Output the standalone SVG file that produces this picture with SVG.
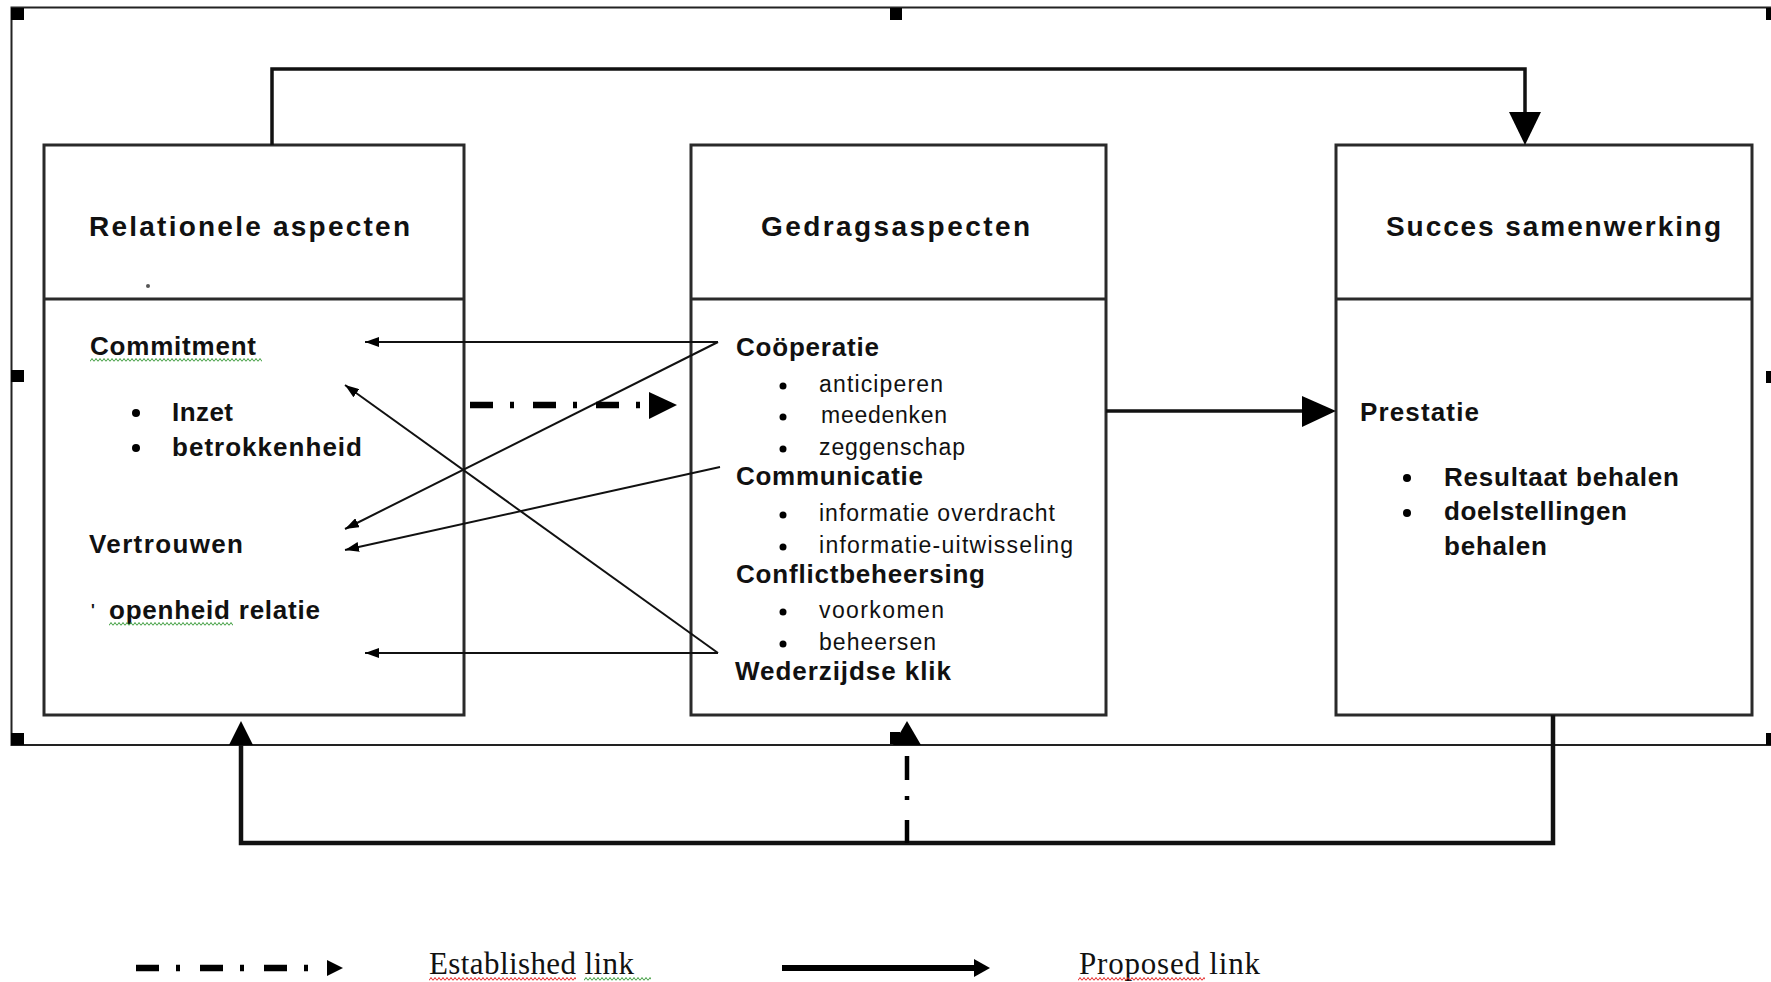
<svg xmlns="http://www.w3.org/2000/svg" width="1771" height="982" viewBox="0 0 1771 982">
<style>
.box{fill:#fff;stroke:#2a2a2a;stroke-width:3}
.t{font-family:"Liberation Sans",Arial,sans-serif;font-weight:bold;font-size:28px;fill:#111}
.b{font-family:"Liberation Sans",Arial,sans-serif;font-weight:bold;font-size:26px;fill:#111}
.r{font-family:"Liberation Sans",Arial,sans-serif;font-size:23px;fill:#111}
.leg{font-family:"Liberation Serif","Times New Roman",serif;font-size:31px;fill:#111}
.thin{fill:none;stroke:#111;stroke-width:2;marker-end:url(#ah)}
.thick{fill:none;stroke:#111;stroke-width:3.5}
.fat{fill:none;stroke:#111;stroke-width:4.5}
.head{fill:#000}
.hd{fill:#000}
.dot{fill:#000}
</style>
<defs>
<marker id="ah" viewBox="0 0 14 10" refX="14" refY="5" markerWidth="14" markerHeight="10" markerUnits="userSpaceOnUse" orient="auto">
<path d="M0,0 L14,5 L0,10 z" fill="#000"/>
</marker>
<pattern id="wg" width="4" height="4" patternUnits="userSpaceOnUse"><path d="M0,3.5 L2,0.5 L4,3.5" fill="none" stroke="#3c9c3c" stroke-width="1"/></pattern>
<pattern id="wr" width="4" height="4" patternUnits="userSpaceOnUse"><path d="M0,3.5 L2,0.5 L4,3.5" fill="none" stroke="#e42424" stroke-width="1"/></pattern>
</defs>
<rect width="1771" height="982" fill="#fff"/>

<g id="frame">
<rect x="11.5" y="7.5" width="1775" height="737.5" fill="none" stroke="#222" stroke-width="2"/>
<rect class="hd" x="11" y="8" width="13" height="12"/>
<rect class="hd" x="890" y="8" width="12" height="12"/>
<rect class="hd" x="11" y="370" width="13" height="12"/>
<rect class="hd" x="11" y="733" width="13" height="12"/>
<rect class="hd" x="1766" y="8" width="12" height="12"/>
<rect class="hd" x="1766" y="371" width="12" height="12"/>
<rect class="hd" x="1766" y="733" width="12" height="12"/>
<rect class="hd" x="890" y="732" width="10" height="12"/>
</g>

<g id="node-relationele">
<rect class="box" x="44" y="145" width="420" height="570"/>
<line x1="44" y1="299" x2="464" y2="299" stroke="#2a2a2a" stroke-width="3"/>
<text class="t" x="89" y="236" textLength="321">Relationele aspecten</text>
<circle cx="148" cy="286" r="2" fill="#555"/>
<text class="b" x="90" y="355" textLength="166">Commitment</text>
<circle class="dot" cx="136" cy="413" r="4"/>
<text class="b" x="172" y="421" textLength="61">Inzet</text>
<circle class="dot" cx="136" cy="448" r="4"/>
<text class="b" x="172" y="456" textLength="190">betrokkenheid</text>
<text class="b" x="89" y="553" textLength="154">Vertrouwen</text>
<text class="b" x="91" y="616" style="font-size:16px">'</text>
<text class="b" x="109" y="619" textLength="211">openheid relatie</text>
</g>

<g id="node-gedrag">
<rect class="box" x="691" y="145" width="415" height="570"/>
<line x1="691" y1="299" x2="1106" y2="299" stroke="#2a2a2a" stroke-width="3"/>
<text class="t" x="761" y="236" textLength="269">Gedragsaspecten</text>
<text class="b" x="736" y="356" textLength="143">Coöperatie</text>
<circle class="dot" cx="783" cy="386" r="3.5"/>
<text class="r" x="819" y="392" textLength="124">anticiperen</text>
<circle class="dot" cx="783" cy="417" r="3.5"/>
<text class="r" x="821" y="423" textLength="126">meedenken</text>
<circle class="dot" cx="783" cy="449" r="3.5"/>
<text class="r" x="819" y="455" textLength="146">zeggenschap</text>
<text class="b" x="736" y="485" textLength="187">Communicatie</text>
<circle class="dot" cx="783" cy="515" r="3.5"/>
<text class="r" x="819" y="521" textLength="236">informatie overdracht</text>
<circle class="dot" cx="783" cy="547" r="3.5"/>
<text class="r" x="819" y="553" textLength="254">informatie-uitwisseling</text>
<text class="b" x="736" y="583" textLength="249">Conflictbeheersing</text>
<circle class="dot" cx="783" cy="612" r="3.5"/>
<text class="r" x="819" y="618" textLength="125">voorkomen</text>
<circle class="dot" cx="783" cy="644" r="3.5"/>
<text class="r" x="819" y="650" textLength="117">beheersen</text>
<text class="b" x="735" y="680" textLength="216">Wederzijdse klik</text>
</g>

<g id="node-succes">
<rect class="box" x="1336" y="145" width="416" height="570"/>
<line x1="1336" y1="299" x2="1752" y2="299" stroke="#2a2a2a" stroke-width="3"/>
<text class="t" x="1386" y="236" textLength="335">Succes samenwerking</text>
<text class="b" x="1360" y="421" textLength="119">Prestatie</text>
<circle class="dot" cx="1407" cy="478" r="4"/>
<text class="b" x="1444" y="486" textLength="235">Resultaat behalen</text>
<circle class="dot" cx="1407" cy="513" r="4"/>
<text class="b" x="1444" y="520" textLength="183">doelstellingen</text>
<text class="b" x="1444" y="555" textLength="103">behalen</text>
</g>

<g id="connectors">
<path class="thin" d="M718,342 H365"/>
<path class="thin" d="M718,342 L345,529"/>
<path class="thin" d="M720,467 L345,550"/>
<path class="thin" d="M718,653 L345,385"/>
<path class="thin" d="M718,653 H365"/>
<path d="M470,405 H649" fill="none" stroke="#000" stroke-width="6.5" stroke-dasharray="23 17 4 19"/>
<polygon class="head" points="649,392 649,419 677,405"/>
<path class="thick" d="M272,145 V69 H1525 V114"/>
<polygon class="head" points="1509,112 1541,112 1525,145"/>
<path class="thick" d="M1106,411 H1304"/>
<polygon class="head" points="1302,396 1302,427 1336,411"/>
<path class="fat" d="M1553,715 V843 H241 V744"/>
<polygon class="head" points="229,745 253,745 241,721"/>
<path d="M907,843 V745" fill="none" stroke="#000" stroke-width="4.5" stroke-dasharray="23 20 4 16 24 20"/>
<polygon class="head" points="893,745 921,745 907,721"/>
</g>

<g id="legend">
<path d="M136,968 H327" fill="none" stroke="#000" stroke-width="6.5" stroke-dasharray="23 17 4 20"/>
<polygon class="head" points="327,960 327,976 343,968"/>
<text class="leg" x="429" y="974" textLength="205">Established link</text>
<path d="M782,968 H976" fill="none" stroke="#000" stroke-width="6"/>
<polygon class="head" points="974,959 974,977 990,968"/>
<text class="leg" x="1079" y="974" textLength="181">Proposed link</text>
</g>

<g id="spellcheck">
<g transform="translate(90,358)"><rect width="172" height="4" fill="url(#wg)"/></g>
<g transform="translate(109,622)"><rect width="124" height="4" fill="url(#wg)"/></g>
<g transform="translate(429,977)"><rect width="147" height="4" fill="url(#wr)"/></g>
<g transform="translate(584,977)"><rect width="67" height="4" fill="url(#wg)"/></g>
<g transform="translate(1078,977)"><rect width="127" height="4" fill="url(#wr)"/></g>
</g>
</svg>
